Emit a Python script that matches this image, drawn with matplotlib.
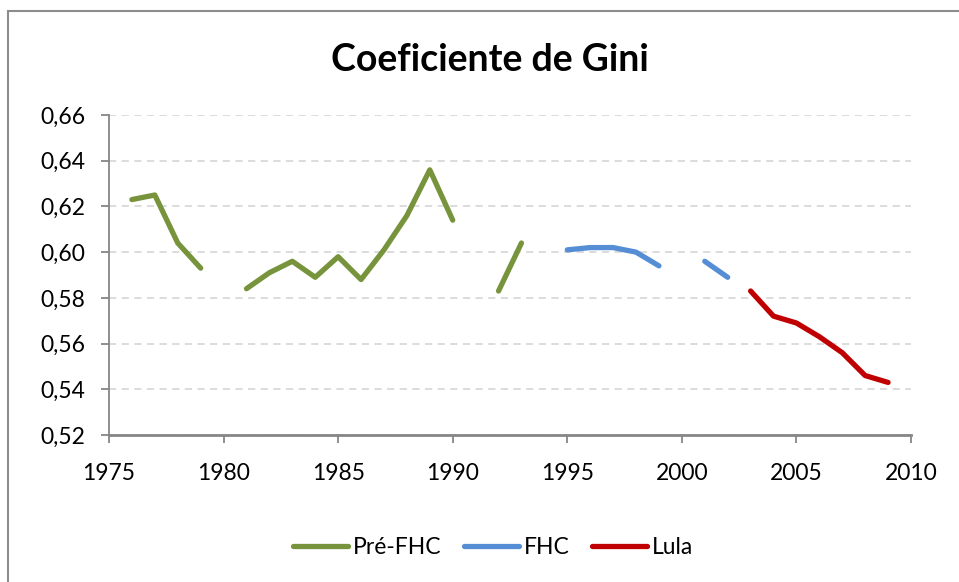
import matplotlib
matplotlib.use('Agg')
import matplotlib.pyplot as plt
from matplotlib.patches import Rectangle
from matplotlib.ticker import FuncFormatter

# Gini coefficient by year (gaps = years without survey)
pre_years = [1976, 1977, 1978, 1979, None, 1981, 1982, 1983, 1984, 1985, 1986,
             1987, 1988, 1989, 1990, None, 1992, 1993]
pre_gini = [0.623, 0.625, 0.604, 0.593, None, 0.584, 0.591, 0.596, 0.589, 0.598,
            0.588, 0.601, 0.616, 0.636, 0.614, None, 0.583, 0.604]

fhc_years = [1995, 1996, 1997, 1998, 1999, None, 2001, 2002]
fhc_gini = [0.601, 0.602, 0.602, 0.600, 0.594, None, 0.596, 0.589]

lula_years = [2003, 2004, 2005, 2006, 2007, 2008, 2009]
lula_gini = [0.583, 0.572, 0.569, 0.563, 0.556, 0.546, 0.543]

y_ticks = [0.52, 0.54, 0.56, 0.58, 0.60, 0.62, 0.64, 0.66]
x_ticks = [1975, 1980, 1985, 1990, 1995, 2000, 2005, 2010]


def nan_fill(vals):
    return [float('nan') if v is None else v for v in vals]


plt.rcParams['font.family'] = ['Lato', 'DejaVu Sans']

fig = plt.figure(figsize=(9.59, 5.82), dpi=100)
# chart-area border
fig.patches.append(Rectangle((8 / 959, -0.1), 1.2, 1 - 11 / 582 + 0.1,
                             transform=fig.transFigure, fill=False,
                             edgecolor='#8c8c8c', linewidth=1.5))

ax = fig.add_axes([109 / 959, 1 - 435 / 582, 802 / 959, 320 / 582])

gray = '#868686'
ax.plot(nan_fill(pre_years), nan_fill(pre_gini), color='#77933c', lw=3.8,
        solid_capstyle='round', solid_joinstyle='round', label='Pré-FHC')
ax.plot(nan_fill(fhc_years), nan_fill(fhc_gini), color='#558ed5', lw=3.8,
        solid_capstyle='round', solid_joinstyle='round', label='FHC')
ax.plot(lula_years, lula_gini, color='#c00000', lw=3.8,
        solid_capstyle='round', solid_joinstyle='round', label='Lula')

ax.set_xlim(1975, 2010)
ax.set_ylim(0.52, 0.66)
ax.set_xticks(x_ticks)
ax.set_yticks(y_ticks)
ax.yaxis.set_major_formatter(FuncFormatter(lambda v, p: f'{v:.2f}'.replace('.', ',')))

ax.grid(axis='y', color='#d9d9d9', linestyle=(0, (4, 3)), lw=1.3)
ax.set_axisbelow(True)
for s in ['top', 'right']:
    ax.spines[s].set_visible(False)
ax.spines['left'].set_color(gray)
ax.spines['left'].set_linewidth(1.3)
ax.spines['bottom'].set_color(gray)
ax.spines['bottom'].set_linewidth(2)
ax.tick_params(axis='both', colors=gray, labelcolor='black', labelsize=16.5,
               length=6, width=1.3)
ax.tick_params(axis='y', pad=11)
ax.tick_params(axis='x', pad=14)

fig.text(490 / 959, 1 - 60 / 582, 'Coeficiente de Gini', ha='center', va='center',
         fontsize=27, fontweight='bold')

fig.legend(loc='center', bbox_to_anchor=(493 / 959, 1 - 548 / 582), ncol=3,
           frameon=False, fontsize=16.5, handlelength=2.4, handletextpad=0.2,
           columnspacing=1.0)

fig.savefig('out.png', dpi=100)
